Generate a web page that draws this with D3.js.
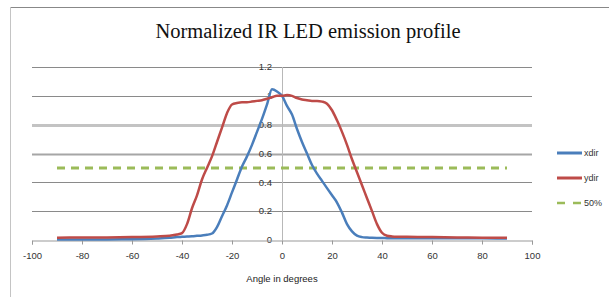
<!DOCTYPE html>
<html>
<head>
<meta charset="utf-8">
<script src="https://cdn.jsdelivr.net/npm/d3@7"></script>
<style>
  body { margin: 0; background: #fff; }
  svg { display: block; }
</style>
</head>
<body>
<div></div>
<script>
// data
var angles = [-90, -80, -70, -60, -50, -45, -42, -40, -38, -36, -34, -32, -30, -28, -26, -24, -22, -20,
  -18, -16, -14, -12, -10, -8, -6, -4, -2, 0, 2, 4, 6, 8, 10, 12, 14, 16, 18, 20, 22, 24, 26, 28, 30,
  32, 34, 36, 38, 40, 42, 44, 46, 50, 60, 70, 80, 90];
var xdir = [0.003, 0.003, 0.004, 0.005, 0.01, 0.015, 0.02, 0.022, 0.024, 0.026, 0.029, 0.032, 0.036, 0.045, 0.09, 0.165, 0.24, 0.33,
  0.42, 0.51, 0.58, 0.66, 0.75, 0.84, 0.94, 1.045, 1.03, 1.0, 0.93, 0.87, 0.77, 0.68, 0.6, 0.52, 0.46, 0.41, 0.36, 0.31, 0.26, 0.19, 0.11, 0.06, 0.03,
  0.02, 0.017, 0.015, 0.014, 0.014, 0.013, 0.013, 0.013, 0.013, 0.013, 0.013, 0.012, 0.01];
var ydir = [0.016, 0.017, 0.018, 0.02, 0.025, 0.03, 0.038, 0.048, 0.11, 0.22, 0.31, 0.42, 0.5, 0.58, 0.68, 0.78, 0.88, 0.94,
  0.95, 0.955, 0.955, 0.96, 0.965, 0.97, 0.98, 0.99, 1.0, 1.0, 1.005, 1.0, 0.985, 0.975, 0.97, 0.965, 0.965, 0.96, 0.945, 0.9, 0.83, 0.75, 0.66, 0.56, 0.47,
  0.38, 0.29, 0.2, 0.11, 0.05, 0.03, 0.025, 0.023, 0.022, 0.02, 0.018, 0.016, 0.015];
var halfLine = [[-90, 0.5], [90, 0.5]];
var xTicks = [-100, -80, -60, -40, -20, 0, 20, 40, 60, 80, 100];
var yTicks = [0, 0.2, 0.4, 0.6, 0.8, 1, 1.2];
var seriesNames = ['xdir', 'ydir', '50%'];

var w = 609, h = 297;

var svg = d3.select('div')
    .append('svg')
    .attr('width', w)
    .attr('height', h);

// frame lines
svg.append('line')
    .attr('x1', 10).attr('x2', w).attr('y1', 7.5).attr('y2', 7.5)
    .attr('stroke', '#888').attr('stroke-width', 1);
svg.append('line')
    .attr('x1', 10.5).attr('x2', 10.5).attr('y1', 7).attr('y2', h)
    .attr('stroke', '#c4c4c4').attr('stroke-width', 1);

// scales
var x = d3.scaleLinear().domain([-100, 100]).range([32, 532]);
var y = d3.scaleLinear().domain([0, 1.2]).range([240, 67]);

// title
svg.append('text')
    .attr('x', 308)
    .attr('y', 38)
    .attr('text-anchor', 'middle')
    .style('font-family', '"Liberation Serif", serif')
    .style('font-size', '20.5px')
    .style('fill', '#111')
    .text('Normalized IR LED emission profile');

// horizontal gridlines (odd widths as in the source)
var gridStyle = function(v) {
    if (Math.abs(v - 0.8) < 1e-6) return { c: '#c3c3c3', w: 3 };
    if (Math.abs(v - 0.6) < 1e-6) return { c: '#a6a6a6', w: 2 };
    return { c: '#8a8a8a', w: 1 };
};
svg.append('g').selectAll('line')
    .data(yTicks.filter(function(d) { return d > 0; }))
    .enter()
    .append('line')
    .attr('x1', x(-100)).attr('x2', x(100))
    .attr('y1', function(d) { return Math.round(y(d)) + 0.5; })
    .attr('y2', function(d) { return Math.round(y(d)) + 0.5; })
    .attr('stroke', function(d) { return gridStyle(d).c; })
    .attr('stroke-width', function(d) { return gridStyle(d).w; });

// vertical axis at x = 0
svg.append('line')
    .attr('x1', x(0) + 0.5).attr('x2', x(0) + 0.5)
    .attr('y1', y(1.2)).attr('y2', y(0))
    .attr('stroke', '#b8b8b8');

svg.append('g').selectAll('text')
    .data(yTicks)
    .enter()
    .append('text')
    .attr('x', x(0) - 10)
    .attr('y', function(d) { return y(d); })
    .attr('dy', '0.35em')
    .attr('text-anchor', 'end')
    .style('font-family', '"Liberation Sans", sans-serif')
    .style('font-size', '9.5px')
    .style('fill', '#333')
    .text(function(d) { return String(d); });

// horizontal axis, plain hyphen for negatives
var xAxis = d3.axisBottom(x)
    .tickValues(xTicks)
    .tickSize(4)
    .tickFormat(function(d) { return String(d); });

var gx = svg.append('g')
    .attr('transform', 'translate(0,' + (y(0) + 0.5) + ')')
    .call(xAxis);
gx.select('.domain').attr('stroke', '#999');
gx.selectAll('.tick line').attr('stroke', '#999');
gx.selectAll('.tick text')
    .attr('y', 12)
    .style('font-family', '"Liberation Sans", sans-serif')
    .style('font-size', '9.5px')
    .style('fill', '#333');

svg.append('text')
    .attr('x', x(0))
    .attr('y', 282)
    .attr('text-anchor', 'middle')
    .style('font-family', '"Liberation Sans", sans-serif')
    .style('font-size', '9.5px')
    .style('fill', '#222')
    .text('Angle in degrees');

// series
var line = d3.line()
    .x(function(d) { return x(d[0]); })
    .y(function(d) { return y(d[1]); })
    .curve(d3.curveMonotoneX);

var colors = ['#4a7ebb', '#be4b48', '#9bbb59'];

svg.append('path')
    .datum(halfLine)
    .attr('d', line)
    .attr('fill', 'none')
    .attr('stroke', colors[2])
    .attr('stroke-width', 3)
    .attr('stroke-dasharray', '8,6');

svg.append('path')
    .datum(d3.zip(angles, xdir))
    .attr('d', line)
    .attr('fill', 'none')
    .attr('stroke', colors[0])
    .attr('stroke-width', 2.5);

svg.append('path')
    .datum(d3.zip(angles, ydir))
    .attr('d', line)
    .attr('fill', 'none')
    .attr('stroke', colors[1])
    .attr('stroke-width', 2.5);

// legend
var legend = svg.append('g').selectAll('g')
    .data(seriesNames)
    .enter()
    .append('g')
    .attr('transform', function(d, i) { return 'translate(557,' + (153 + i * 25) + ')'; });

legend.append('line')
    .attr('x1', 0).attr('x2', 25).attr('y1', 0).attr('y2', 0)
    .attr('stroke', function(d, i) { return colors[i]; })
    .attr('stroke-width', function(d, i) { return i == 2 ? 2.5 : 3; })
    .attr('stroke-dasharray', function(d, i) { return i == 2 ? '8,8' : null; });

legend.append('text')
    .attr('x', 27)
    .attr('dy', '0.35em')
    .style('font-family', '"Liberation Sans", sans-serif')
    .style('font-size', '9px')
    .style('fill', '#333')
    .text(function(d) { return d; });
</script>
</body>
</html>
